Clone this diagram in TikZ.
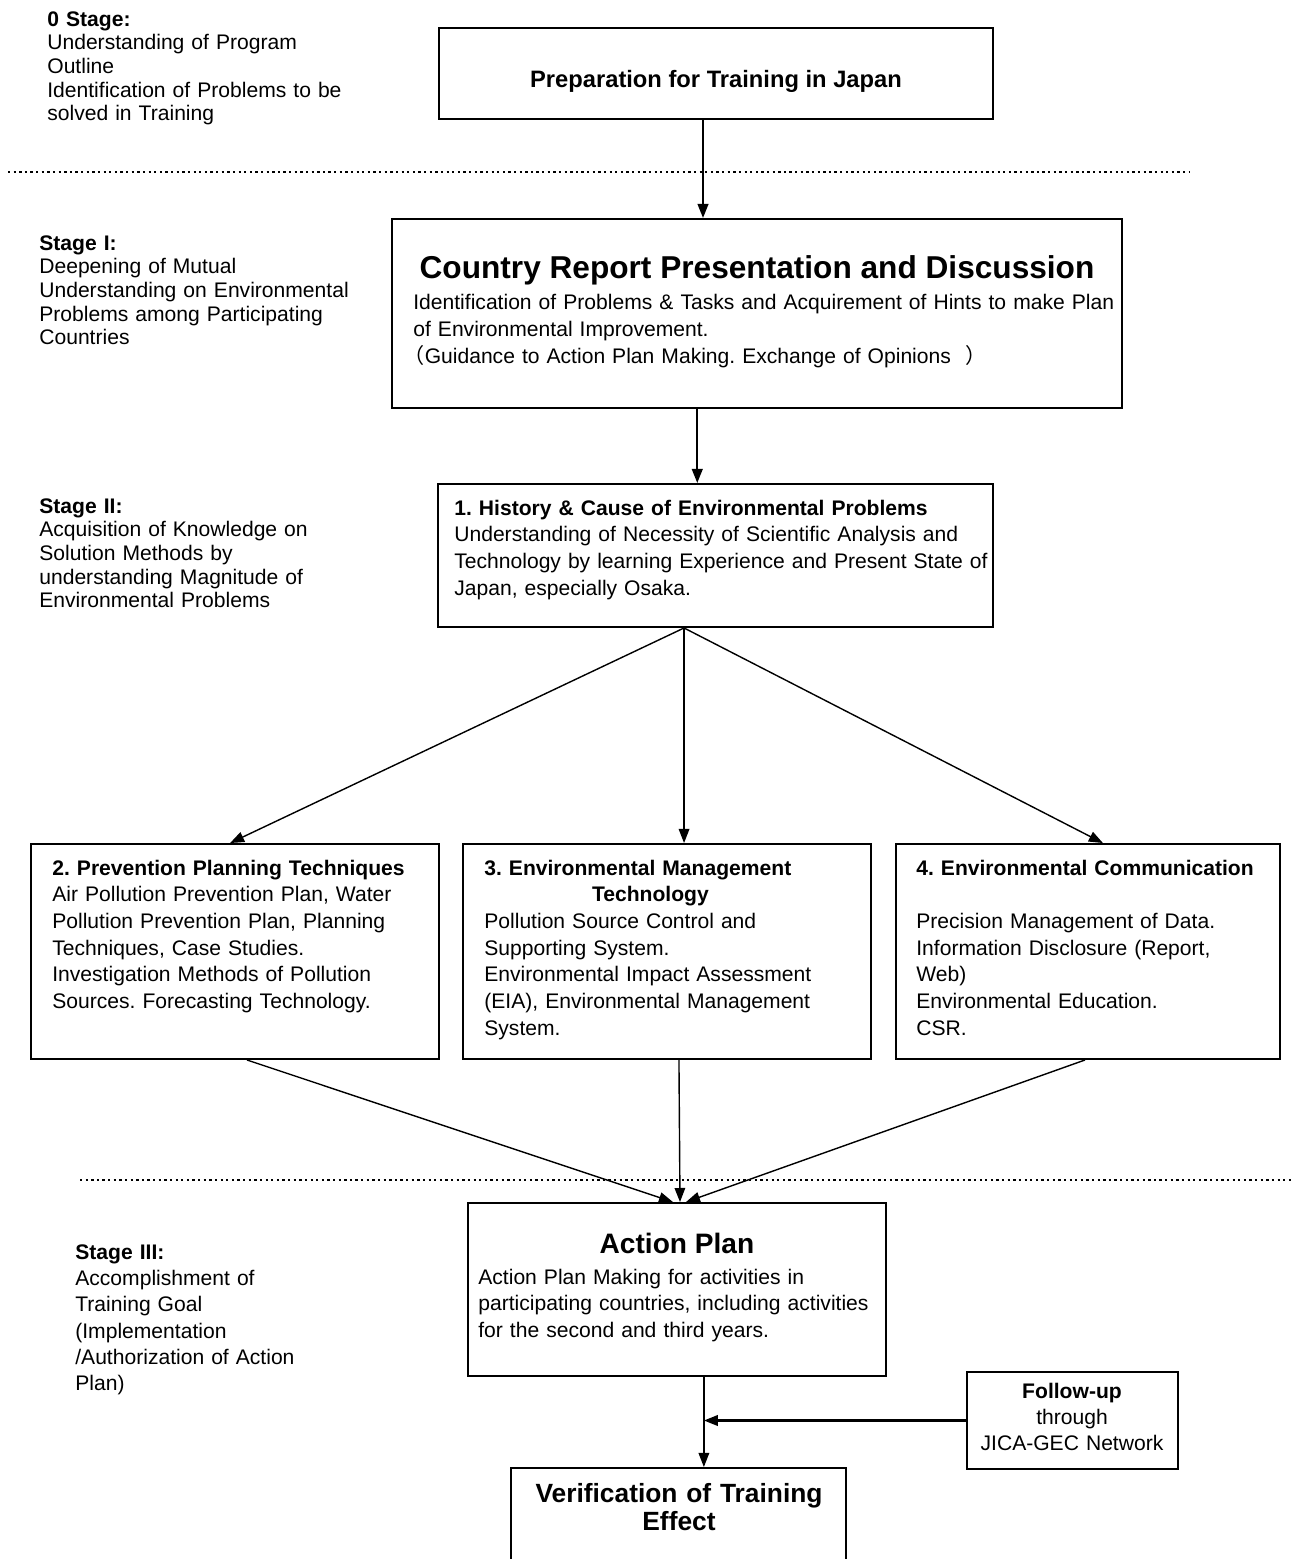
\documentclass[tikz,border=0pt]{standalone}
\usepackage{fontspec}
\setmainfont{Liberation Sans}
\newfontfamily\cjk{Noto Sans CJK JP}
\usetikzlibrary{arrows.meta,fit}
\frenchspacing
\tikzset{
  box/.style={draw,line width=1.1pt,inner sep=0pt},
  txt/.style={anchor=base west,align=left,inner sep=0pt,font=\fontsize{12}{15.2}\selectfont},
  stage/.style={txt,text width=200pt,font=\fontsize{12}{13.5}\selectfont},
  ttl/.style={anchor=base,align=center,inner sep=0pt},
  ar/.style={-{Triangle[length=8pt,width=6pt]},line width=0.8pt},
  arb/.style={ar,line width=1.3pt},
  sep/.style={line width=1.3pt,dash pattern=on 1.3pt off 1.9pt},
}
\begin{document}
\begin{tikzpicture}[x=0.02cm,y=-0.02cm]
  \useasboundingbox (0,0) rectangle (1291,1559);
  % stage notes on the left
  \node[stage] (s0) at (47,26) {\textbf{0 Stage:}\\Understanding of Program\\Outline\\Identification of Problems to be\\solved in Training};
  \node[stage] (s1) at (39,250) {\textbf{Stage I:}\\Deepening of Mutual\\Understanding on Environmental\\Problems among Participating\\Countries};
  \node[stage] (s2) at (39,513) {\textbf{Stage II:}\\Acquisition of Knowledge on\\Solution Methods by\\understanding Magnitude of\\Environmental Problems};
  \node[stage,font=\fontsize{12}{15}\selectfont] (s3) at (75,1259) {\textbf{Stage III:}\\Accomplishment of\\Training Goal\\(Implementation\\/Authorization of Action\\Plan)};
  % stage separators
  \draw[sep] (8,172) -- (1189,172);
  \draw[sep] (80,1180) -- (1291,1180);
  % boxes
  \node[box,fit={(439,28) (993,119)}] (prep) {};
  \node[box,fit={(392,219) (1122,408)}] (report) {};
  \node[box,fit={(438,484) (993,627)}] (hist) {};
  \node[box,fit={(31,844) (439,1059)}] (plan) {};
  \node[box,fit={(463,844) (871,1059)}] (mgmt) {};
  \node[box,fit={(896,844) (1280,1059)}] (comm) {};
  \node[box,fit={(468,1203) (886,1376)}] (action) {};
  \node[box,fit={(967,1372) (1178,1469)}] (follow) {};
  \node[box,fit={(511,1468) (846,1600)}] (verify) {};
  % box texts
  \node[ttl,font=\fontsize{13.5}{16}\selectfont\bfseries] (prepT) at (716,87) {Preparation for Training in Japan};
  \node[ttl,font=\fontsize{18}{22}\selectfont\bfseries] (reportT) at (757,278) {Country Report Presentation and Discussion};
  \node[txt,text width=420pt,font=\fontsize{12}{15.6}\selectfont] (reportB) at (413,309) {Identification of Problems \& Tasks and Acquirement of Hints to make Plan\\of Environmental Improvement.\\\hspace*{-5.5pt}{\cjk （}Guidance to Action Plan Making. Exchange of Opinions\ \ {\cjk ）}};
  \node[txt,text width=320pt] (histT) at (454,515) {\textbf{1. History \& Cause of Environmental Problems}\\Understanding of Necessity of Scientific Analysis and\\Technology by learning Experience and Present State of\\Japan, especially Osaka.};
  \node[txt,text width=215pt] (planT) at (52,875) {\textbf{2. Prevention Planning Techniques}\\Air Pollution Prevention Plan, Water\\Pollution Prevention Plan, Planning\\Techniques, Case Studies.\\Investigation Methods of Pollution\\Sources. Forecasting Technology.};
  \node[txt,text width=200pt] (mgmtT) at (484,875) {\textbf{3. Environmental Management}\\\makebox[189pt]{\textbf{Technology}}\\Pollution Source Control and\\Supporting System.\\Environmental Impact Assessment\\(EIA), Environmental Management\\System.};
  \node[txt,text width=215pt] (commT) at (916,875) {\textbf{4. Environmental Communication}\\[15.2pt]Precision Management of Data.\\Information Disclosure (Report,\\Web)\\Environmental Education.\\CSR.};
  \node[ttl,font=\fontsize{16}{19}\selectfont\bfseries] (actionT) at (677,1253) {Action Plan};
  \node[txt,text width=240pt] (actionB) at (478,1284) {Action Plan Making for activities in\\participating countries, including activities\\for the second and third years.};
  \node[ttl,text width=125pt,font=\fontsize{12}{15}\selectfont] (followT) at (1072,1398) {\textbf{Follow-up}\\through\\JICA-GEC Network};
  \node[ttl,text width=200pt,font=\fontsize{15}{16.2}\selectfont\bfseries] (verifyT) at (679,1502) {Verification of Training\\Effect};
  % connectors
  \coordinate (a1) at ([xshift=-7.4pt]prep.south);
  \draw[arb] (a1) -- (a1 |- report.north);
  \coordinate (a2) at ([xshift=-34pt]report.south);
  \draw[arb] (a2) -- (a2 |- hist.north);
  \coordinate (a3) at ([xshift=-17.9pt]hist.south);
  \draw[ar] (a3) -- ([xshift=-2.8pt]plan.north);
  \draw[ar] (a3) -- (a3 |- mgmt.north);
  \draw[ar] (a3) -- ([xshift=8.5pt]comm.north);
  \draw[ar] ([xshift=6.8pt]plan.south) -- ([xshift=-2.3pt]action.north);
  \draw[ar] ([xshift=6.8pt]mgmt.south) -- ([xshift=1.7pt]action.north);
  \draw[ar] ([xshift=-1.7pt]comm.south) -- ([xshift=5.1pt]action.north);
  \coordinate (a4) at ([xshift=15.3pt]action.south);
  \draw[ar] (a4) -- (a4 |- verify.north);
  \draw[arb] (follow.west) -- (follow.west -| a4);
\end{tikzpicture}
\end{document}
